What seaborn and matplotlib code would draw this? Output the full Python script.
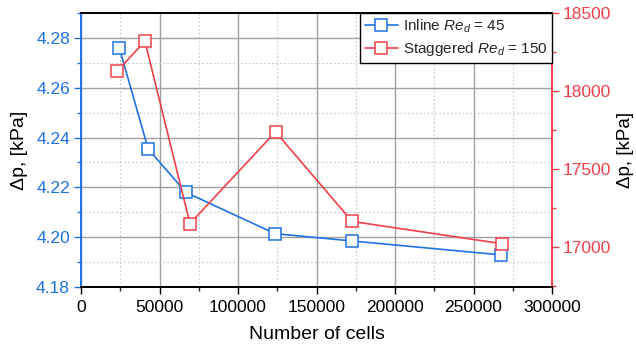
import matplotlib
matplotlib.use("Agg")
import matplotlib.pyplot as plt
import seaborn as sns
import pandas as pd
from matplotlib.ticker import MultipleLocator
from matplotlib.lines import Line2D

# Data
inline_cells = [24400, 42800, 66800, 123700, 172300, 267300]
inline_dp = [4.276, 4.2354, 4.218, 4.2014, 4.1985, 4.1929]
stag_cells = [23100, 40700, 69400, 123900, 172700, 268000]
stag_dp = [18126, 18319, 17148, 17737, 17162, 17019]
labels = ["Inline $Re_d$ = 45", "Staggered $Re_d$ = 150"]

BLUE = "#1f72e3"
RED = "#f2404a"

sns.set_style("white")
plt.rcParams["font.family"] = ["Liberation Sans", "DejaVu Sans"]
plt.rcParams["mathtext.fontset"] = "custom"
plt.rcParams["mathtext.rm"] = "Liberation Sans"
plt.rcParams["mathtext.it"] = "Liberation Sans:italic"

fig = plt.figure(figsize=(6.36, 3.49), dpi=100)
ax = fig.add_axes([81/636, 1-287/349, (552-81)/636, (287-13)/349])
ax2 = ax.twinx()

df1 = pd.DataFrame({"cells": inline_cells, "dp": inline_dp})
df2 = pd.DataFrame({"cells": stag_cells, "dp": stag_dp})

mk = dict(marker="s", markersize=9, markerfacecolor="white", markeredgewidth=1.1)
sns.lineplot(data=df1, x="cells", y="dp", ax=ax, color=BLUE, lw=1.2,
             markeredgecolor=BLUE, sort=False, zorder=3, **mk)
sns.lineplot(data=df2, x="cells", y="dp", ax=ax2, color=RED, lw=1.2,
             markeredgecolor=RED, sort=False, zorder=3, **mk)

ax.set_xlim(0, 300000)
ax.set_ylim(4.18, 4.29)
ax2.set_ylim(16741, 18500)

ax.xaxis.set_major_locator(MultipleLocator(50000))
ax.xaxis.set_minor_locator(MultipleLocator(25000))
ax.yaxis.set_major_locator(MultipleLocator(0.02))
ax.yaxis.set_minor_locator(MultipleLocator(0.01))
ax2.yaxis.set_major_locator(MultipleLocator(500))
ax2.yaxis.set_minor_locator(MultipleLocator(250))
ax.yaxis.set_major_formatter(matplotlib.ticker.FormatStrFormatter("%.2f"))

ax.grid(which="major", color="#a0a0a0", lw=1.0, ls="-")
ax.grid(which="minor", color="#c8c8c8", lw=0.8, ls=(0, (1.5, 2)))
ax2.grid(False)
ax.set_axisbelow(True)

TS = 12.5
ax.tick_params(axis="x", which="major", direction="out", length=5, width=1, labelsize=TS, colors="black", bottom=True, pad=4)
ax.tick_params(axis="x", which="minor", direction="out", length=3, width=1, bottom=True)
ax.tick_params(axis="y", which="major", direction="out", length=5, width=1, labelsize=TS, colors=BLUE, left=True, pad=3)
ax.tick_params(axis="y", which="minor", direction="out", length=3, width=1, colors=BLUE, left=True)
ax2.tick_params(axis="y", which="major", direction="out", length=5, width=1, labelsize=TS, colors=RED, right=True, pad=3)
ax2.tick_params(axis="y", which="minor", direction="out", length=3, width=1, colors=RED, right=True)

for a in (ax, ax2):
    a.spines["top"].set_color("black")
    a.spines["bottom"].set_color("black")
    a.spines["left"].set_color(BLUE)
    a.spines["right"].set_color(RED)
    for s in a.spines.values():
        s.set_linewidth(1.4)
ax.spines["right"].set_visible(False)
ax2.spines["left"].set_visible(False)

ax.set_xlabel("Number of cells", fontsize=14, color="black", labelpad=8)
ax.set_ylabel("Δp, [kPa]", fontsize=14, color="black", labelpad=6)
ax2.set_ylabel("Δp, [kPa]", fontsize=13.5, color="black", rotation=90, labelpad=4)

handles = [
    Line2D([], [], color=BLUE, lw=1.2, marker="s", markersize=9, markerfacecolor="white", markeredgecolor=BLUE, markeredgewidth=1.1),
    Line2D([], [], color=RED, lw=1.2, marker="s", markersize=9, markerfacecolor="white", markeredgecolor=RED, markeredgewidth=1.1),
]
leg = ax2.legend(handles, labels, loc="upper right", fontsize=11, frameon=True, fancybox=False,
                 edgecolor="black", framealpha=1, borderpad=0.3, handlelength=2.2,
                 handletextpad=0.3, borderaxespad=0.0, labelspacing=0.35)
leg.get_frame().set_linewidth(1.0)

fig.savefig("out.png", dpi=100)
